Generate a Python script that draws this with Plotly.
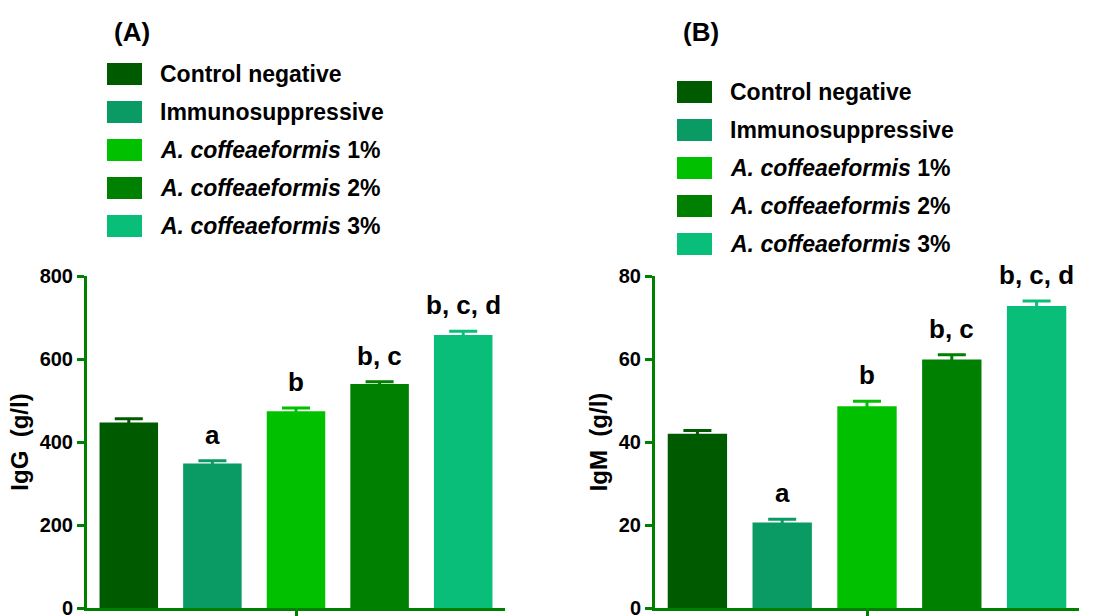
import plotly.graph_objects as go

categories = ["Control negative", "Immunosuppressive", "A. coffeaeformis 1%",
              "A. coffeaeformis 2%", "A. coffeaeformis 3%"]
legend_labels = ["Control negative", "Immunosuppressive", "<i>A. coffeaeformis</i> 1%",
                 "<i>A. coffeaeformis</i> 2%", "<i>A. coffeaeformis</i> 3%"]
colors = ["#005a00", "#0a9a64", "#00c000", "#008000", "#08be78"]

igg_mean = [447, 348, 474, 540, 658]
igg_sem = [9, 7, 8, 5, 9]
igg_sig = ["", "a", "b", "b, c", "b, c, d"]

igm_mean = [42.0, 20.6, 48.6, 59.9, 72.8]
igm_sem = [0.8, 0.8, 1.2, 1.1, 1.2]
igm_sig = ["", "a", "b", "b, c", "b, c, d"]

W, H = 1093, 616
FONT = "Liberation Sans, Arial, sans-serif"
AXC = "#008000"

fig = go.Figure()

panels = [
    dict(mean=igg_mean, sem=igg_sem, sig=igg_sig, xa="x", ya="y"),
    dict(mean=igm_mean, sem=igm_sem, sig=igm_sig, xa="x2", ya="y2"),
]

for p in panels:
    for i, c in enumerate(categories):
        fig.add_trace(go.Bar(
            x=[c], y=[p["mean"][i]], width=0.7,
            marker=dict(color=colors[i], line=dict(width=0)),
            error_y=dict(type="data", array=[p["sem"][i]], color=colors[i],
                         thickness=3, width=14),
            xaxis=p["xa"], yaxis=p["ya"], showlegend=False,
        ))
        if p["sig"][i]:
            fig.add_annotation(
                x=c, y=p["mean"][i] + p["sem"][i], xref=p["xa"], yref=p["ya"],
                text=p["sig"][i], showarrow=False, yanchor="bottom", yshift=9,
                font=dict(family=FONT, size=26, color="black", weight="bold"),
            )

ybot = 1 - 608 / H
ytop = 1 - 276 / H
common_x = dict(type="category", categoryorder="array", categoryarray=categories,
                range=[-0.5, 4.5], showline=True, linecolor=AXC, linewidth=3,
                ticks="outside", ticklen=7, tickwidth=3, tickcolor=AXC,
                tickvals=[categories[2]], showticklabels=False, showgrid=False,
                zeroline=False, automargin=False)
common_y = dict(showline=True, linecolor=AXC, linewidth=3, ticks="outside",
                ticklen=7, tickwidth=3, tickcolor=AXC, showgrid=False, zeroline=False,
                ticklabeloverflow="allow", automargin=False,
                tickfont=dict(family=FONT, size=20, color="black", weight="bold"))

fig.update_layout(
    width=W, height=H, margin=dict(l=0, r=0, t=0, b=0, autoexpand=False),
    paper_bgcolor="white", plot_bgcolor="white", barmode="overlay",
    xaxis=dict(domain=[87 / W, 505 / W], anchor="y", **common_x),
    xaxis2=dict(domain=[655 / W, 1079 / W], anchor="y2", **common_x),
    yaxis=dict(domain=[ybot, ytop], anchor="x", range=[0, 800], dtick=200,
               title=dict(text="IgG  (g/l)", standoff=5,
                          font=dict(family=FONT, size=24, color="black", weight="bold")),
               **common_y),
    yaxis2=dict(domain=[ybot, ytop], anchor="x2", range=[0, 80], dtick=20,
                title=dict(text="IgM  (g/l)", standoff=5,
                           font=dict(family=FONT, size=24, color="black", weight="bold")),
                **common_y),
)

# panel titles
for label, cx in [("(A)", 132), ("(B)", 701)]:
    fig.add_annotation(x=cx / W, y=1 - 32 / H, xref="paper", yref="paper",
                       text=label, showarrow=False, xanchor="center", yanchor="middle",
                       font=dict(family=FONT, size=26, color="black", weight="bold"))

# manual legends
for sx, ty0 in [(107, 74), (677, 92)]:
    for i, lab in enumerate(legend_labels):
        cy = ty0 + 38 * i
        fig.add_shape(type="rect", xref="paper", yref="paper",
                      x0=sx / W, x1=(sx + 35) / W,
                      y0=1 - (cy + 11) / H, y1=1 - (cy - 11) / H,
                      fillcolor=colors[i], line=dict(width=0))
        fig.add_annotation(x=(sx + 51) / W, y=1 - cy / H, xref="paper", yref="paper",
                           text=lab, showarrow=False, xanchor="left", yanchor="middle",
                           font=dict(family=FONT, size=23, color="black", weight="bold"))

fig.write_html("out.html")
